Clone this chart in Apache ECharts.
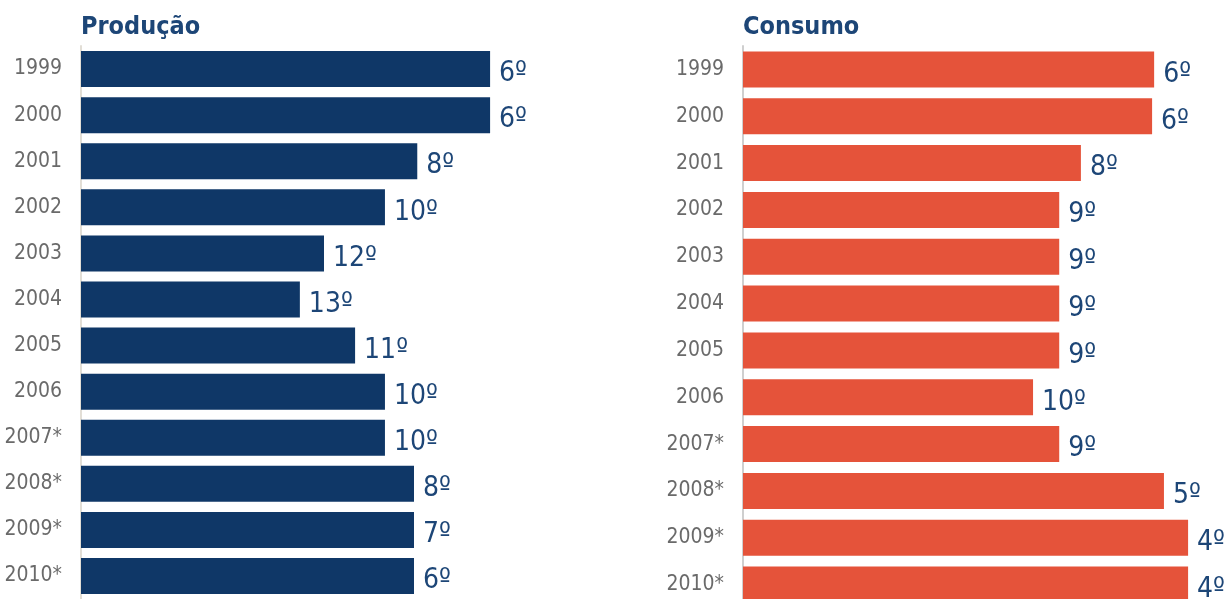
<!DOCTYPE html>
<html>
<head>
<meta charset="utf-8">
<script src="https://cdn.jsdelivr.net/npm/echarts@6/dist/echarts.min.js"></script>
<style>
html,body{margin:0;padding:0;background:#fff;}
#chart{width:1225px;height:599px;}
</style>
</head>
<body>
<div id="chart"></div>
<script>
// Data
const years = ['1999','2000','2001','2002','2003','2004','2005','2006','2007*','2008*','2009*','2010*'];
// bar magnitudes (index, 1999 production = 100)
const producao = [100, 100, 82.2, 74.3, 59.4, 53.5, 67.0, 74.3, 74.3, 81.4, 81.4, 81.4];
const consumo  = [100.5, 100, 82.6, 77.3, 77.3, 77.3, 77.3, 70.9, 77.3, 102.9, 108.8, 108.8];
// ranking labels
const rankProducao = [6, 6, 8, 10, 12, 13, 11, 10, 10, 8, 7, 6];
const rankConsumo  = [6, 6, 8, 9, 9, 9, 9, 10, 9, 5, 4, 4];
const titles = ['Produção', 'Consumo'];

const FONT = "'Liberation Sans Narrow', 'DejaVu Sans Condensed', 'Arial Narrow', sans-serif";
const NAVY = '#0f3767';
const ORANGE = '#e5533a';
const LABEL = '#1d4677';

function mkY(idx) {
  return {
    type: 'category', gridIndex: idx, data: years, inverse: true,
    offset: 11,
    axisLine: { show: true, lineStyle: { color: idx === 0 ? '#e2ded6' : '#cfcfcf', width: 2 } },
    axisTick: { show: false },
    axisLabel: { color: '#6a6a6a', fontSize: 21, fontFamily: FONT, margin: 8 }
  };
}
function mkX(idx) {
  return {
    type: 'value', gridIndex: idx, min: 0, max: 110,
    show: false, splitLine: { show: false }
  };
}
function mkSeries(idx, data, ranks, color) {
  return {
    type: 'bar', xAxisIndex: idx, yAxisIndex: idx, data: data, barWidth: 36,
    itemStyle: { color: color },
    label: {
      show: true, position: 'right', distance: 9, offset: [0, 5],
      color: LABEL, fontSize: 28, fontFamily: FONT,
      formatter: p => ranks[p.dataIndex] + 'º'
    },
    silent: true, animation: false
  };
}

const chart = echarts.init(document.getElementById('chart'), null, { renderer: 'canvas' });
chart.setOption({
  backgroundColor: '#ffffff',
  animation: false,
  title: [
    { text: titles[0], left: 81, top: 15, padding: 0, textStyle: { color: '#1d4677', fontSize: 25, fontWeight: 'bold', fontFamily: FONT } },
    { text: titles[1], left: 743, top: 15, padding: 0, textStyle: { color: '#1d4677', fontSize: 25, fontWeight: 'bold', fontFamily: FONT } }
  ],
  grid: [
    { left: 81, top: 46, width: 450, height: 553, outerBoundsMode: 'none', containLabel: false },
    { left: 743, top: 46, width: 450, height: 562, outerBoundsMode: 'none', containLabel: false }
  ],
  xAxis: [mkX(0), mkX(1)],
  yAxis: [mkY(0), mkY(1)],
  series: [
    mkSeries(0, producao, rankProducao, NAVY),
    mkSeries(1, consumo, rankConsumo, ORANGE)
  ]
});
</script>
</body>
</html>
